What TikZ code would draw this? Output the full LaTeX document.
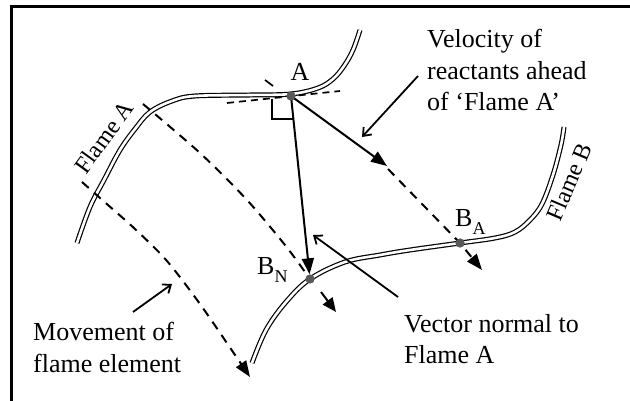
\documentclass[tikz,border=0pt]{standalone}
\usepackage{fontspec}
\setmainfont{Liberation Serif}
\usetikzlibrary{arrows.meta}
\begin{document}
\begin{tikzpicture}[x=1pt,y=-1pt,
  flame/.style={double=white, draw=black, line width=1.2pt, double distance=2.6pt},
  movedash/.style={line width=2pt, dash pattern=on 9pt off 7pt},
  bigtip/.style={-{Triangle[length=16pt,width=12pt]}},
  pointer/.style={line width=1.8pt, -{Straight Barb[length=7pt,width=11pt]}},
  vec/.style={line width=2pt},
  lbl/.style={font=\fontsize{26}{31.5}\selectfont, inner sep=0pt},
  rlbl/.style={font=\fontsize{24}{28}\selectfont, inner sep=0pt},
  dot/.style={circle, fill=black!65, inner sep=0pt, minimum size=9pt}
]
\useasboundingbox (0,0) rectangle (630,401);
% frame
\draw[line width=3pt] (11.5,401) -- (11.5,6.5) -- (630,6.5);

% flames
\draw[flame] plot[smooth, tension=0.6] coordinates {(77,243) (90,207) (104,180) (120,150) (135,129) (150,112) (172,101) (195,96) (250,95) (291,94) (318,88) (333,79) (344,66) (353,50) (360,30)};
\draw[flame] plot[smooth, tension=0.6] coordinates {(252,363) (266,330) (286,302) (310,279) (345,262) (380,255) (410,250) (460,243) (495,238) (515,232) (530,220) (542,204) (553,175) (561,145) (564,127)};

% key points
\node[dot] (A) at (291,96) {};
\node[dot] (BN) at (310,279) {};
\node[dot] (BA) at (460,243) {};
\coordinate (vtip) at (387,166);
\coordinate (vdash) at (388,169);
\coordinate (vend) at (482,270);
\coordinate (s1) at (321,292);
\coordinate (s2) at (336,312);

% movement of flame elements
\draw[movedash] plot[smooth] coordinates {(143,104) (200,153) (247,200) (285,245) (305,272)};
\draw[movedash, bigtip] plot[smooth] coordinates {(82,182) (100,198) (135,229) (167,261) (200,304) (233,352) (250,377)};
\draw[movedash, bigtip] (vdash) -- (BA.center) -- (vend);
\draw[vec, -{Triangle[length=14pt,width=12pt]}] (s1) -- (s2);

% tangent and right angle
\draw[line width=1.7pt, dash pattern=on 7pt off 5pt] (227,103) -- (340,91);
\draw[line width=1.7pt] (265,80) -- (273,86);
\draw[line width=1.4pt] (272,99) -- (272,119) -- (293,119);

% vectors
\draw[vec, bigtip] (A.center) -- (vtip);
\draw[vec, bigtip] (A.center) -- (BN);

\node[dot] at (A) {};
\node[dot] at (BN) {};
\node[dot] at (BA) {};

% pointers
\coordinate (p1a) at (418,76);  \coordinate (p1b) at (362,137);
\coordinate (p2a) at (398,297); \coordinate (p2b) at (313,235);
\coordinate (p3a) at (133,312); \coordinate (p3b) at (172,284);
\draw[pointer] (p1a) -- (p1b);
\draw[pointer] (p2a) -- (p2b);
\draw[pointer] (p3a) -- (p3b);

% labels
\node[lbl, anchor=base] (lA) at (300,81) {A};
\node[lbl, anchor=base west] (lBN) at (257,275) {B\raisebox{-8pt}{\fontsize{18}{18}\selectfont N}};
\node[lbl, anchor=base west] (lBA) at (455,227) {B\raisebox{-8pt}{\fontsize{18}{18}\selectfont A}};
\node[rlbl, rotate=54] (fA) at (104,137) {Flame A};
\node[rlbl, rotate=67] (fB) at (569,182) {Flame B};
\node[lbl, anchor=north west, align=left] (tv) at (427,29) {Velocity of\\reactants ahead\\of `Flame A'};
\node[lbl, anchor=north west, align=left] (tn) at (404,314) {Vector normal to\\Flame A};
\node[lbl, anchor=north west, align=left] (tm) at (33,322) {Movement of\\flame element};
\end{tikzpicture}
\end{document}
